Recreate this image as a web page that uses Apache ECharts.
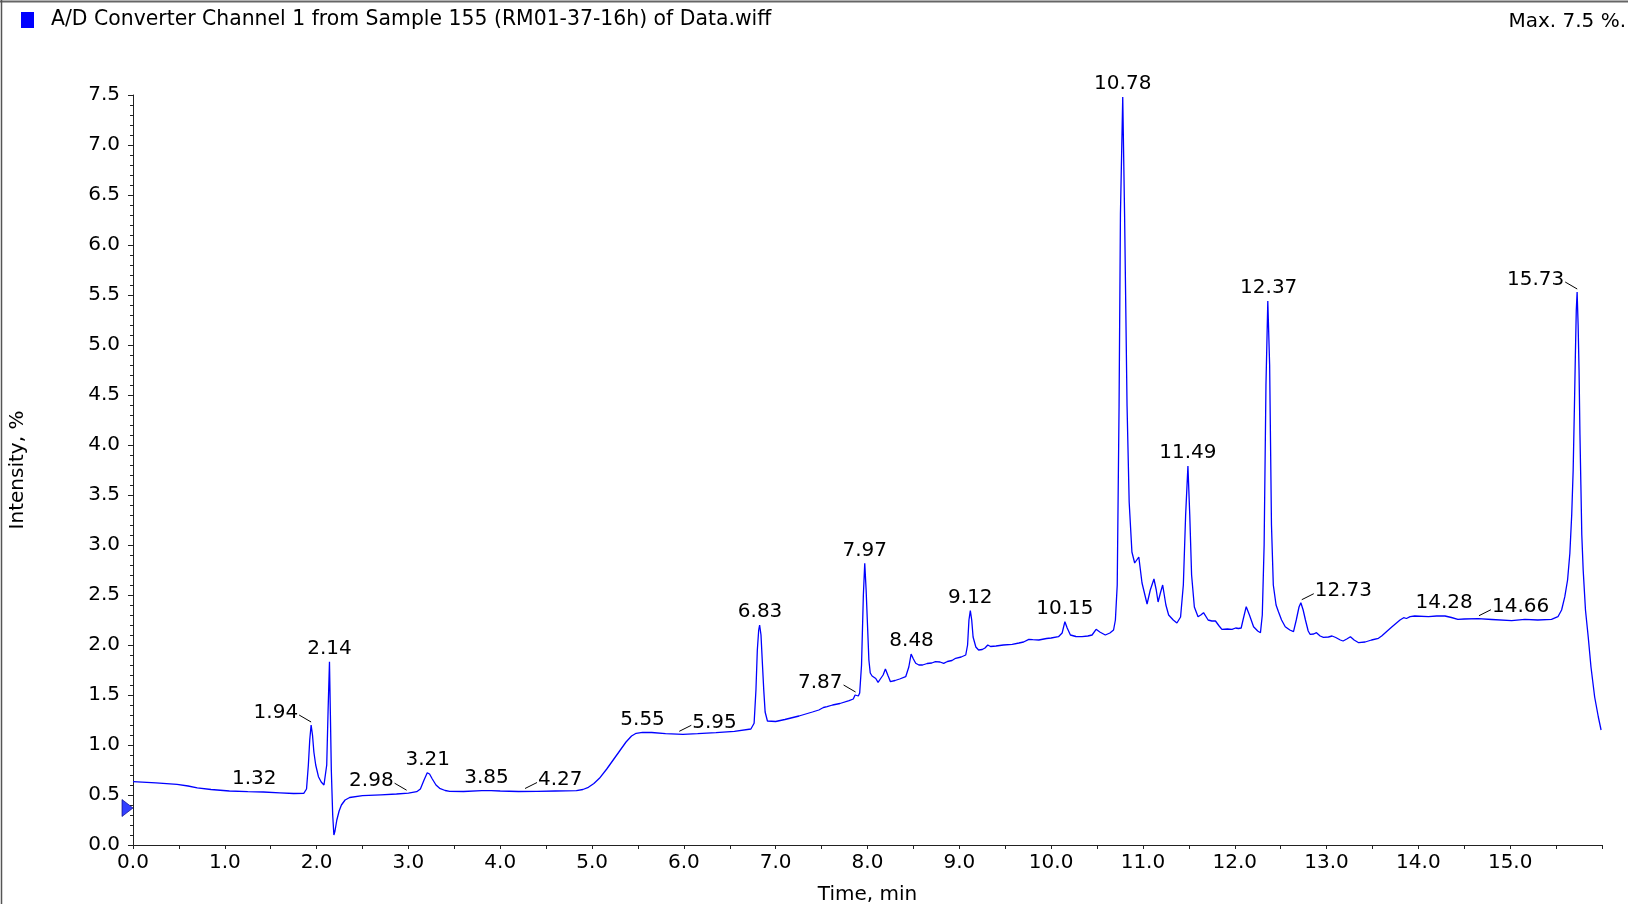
<!DOCTYPE html>
<html>
<head>
<meta charset="utf-8">
<script src="https://cdn.jsdelivr.net/npm/echarts@6/dist/echarts.min.js"></script>
<style>
  html, body { margin: 0; padding: 0; background: #fff; }
  #chart { width: 1628px; height: 904px; }
</style>
</head>
<body>
<div id="chart"></div>
<script>
// ---------------- DATA ----------------
const seriesName = 'A/D Converter Channel 1 from Sample 155 (RM01-37-16h) of Data.wiff';

const timeMin = [
  0.00, 0.25, 0.48, 0.60, 0.70, 0.85, 1.05, 1.25, 1.42, 1.60, 1.75, 1.86,
  1.89, 1.91, 1.925, 1.94, 1.955, 1.97, 1.99, 2.02, 2.05, 2.08, 2.095,
  2.11, 2.125, 2.14, 2.15, 2.16, 2.175, 2.188, 2.20, 2.22, 2.245, 2.27, 2.31, 2.36,
  2.50, 2.70, 2.87, 3.00, 3.09, 3.13, 3.17, 3.205, 3.23, 3.26, 3.30, 3.34, 3.40, 3.45,
  3.60, 3.80, 3.90, 4.00, 4.20, 4.40, 4.60, 4.83, 4.90, 4.96, 5.02, 5.08, 5.16, 5.23,
  5.30, 5.37, 5.43, 5.48, 5.55, 5.65, 5.80, 5.99, 6.15, 6.35, 6.55, 6.73,
  6.765, 6.785, 6.80, 6.815, 6.825, 6.84, 6.855, 6.87, 6.885, 6.91, 6.93,
  7.00, 7.10, 7.254, 7.40, 7.47, 7.52, 7.56, 7.62, 7.70, 7.80, 7.845, 7.865, 7.88, 7.90,
  7.915, 7.935, 7.955, 7.97, 7.985, 8.00, 8.015, 8.03, 8.05, 8.07, 8.09, 8.115, 8.14,
  8.17, 8.195, 8.205, 8.225, 8.25, 8.30, 8.35, 8.416, 8.45, 8.475, 8.50, 8.525, 8.56,
  8.60, 8.65, 8.70, 8.74, 8.79, 8.83, 8.87, 8.92, 8.96, 9.02, 9.07, 9.09, 9.105, 9.12,
  9.135, 9.15, 9.18, 9.21, 9.25, 9.28, 9.31, 9.34, 9.40, 9.48, 9.576, 9.65, 9.70, 9.757,
  9.80, 9.866, 9.95, 10.00, 10.08, 10.12, 10.15, 10.175, 10.21, 10.27, 10.337, 10.40,
  10.446, 10.49, 10.53, 10.59, 10.64, 10.68, 10.70, 10.72, 10.74, 10.755, 10.78, 10.80,
  10.827, 10.85, 10.88, 10.91, 10.93, 10.955, 10.99, 11.045, 11.08, 11.12, 11.145,
  11.165, 11.19, 11.215, 11.25, 11.28, 11.33, 11.37, 11.41, 11.44, 11.465, 11.49,
  11.51, 11.53, 11.56, 11.60, 11.63, 11.66, 11.71, 11.75, 11.79, 11.83, 11.86, 11.92,
  11.97, 12.01, 12.04, 12.07, 12.09, 12.125, 12.16, 12.205, 12.25, 12.28, 12.30, 12.32,
  12.34, 12.36, 12.38, 12.40, 12.42, 12.45, 12.476, 12.51, 12.55, 12.60, 12.64, 12.67,
  12.70, 12.72, 12.745, 12.77, 12.80, 12.82, 12.86, 12.89, 12.93, 12.966, 13.02, 13.06,
  13.10, 13.15, 13.18, 13.22, 13.26, 13.30, 13.35, 13.42, 13.49, 13.565, 13.60, 13.71,
  13.80, 13.84, 13.87, 13.91, 13.96, 14.11, 14.20, 14.29, 14.36, 14.43, 14.50, 14.65,
  14.80, 15.016, 15.16, 15.30, 15.45, 15.52, 15.56, 15.595, 15.625, 15.65, 15.67,
  15.686, 15.70, 15.71, 15.72, 15.729, 15.74, 15.75, 15.76, 15.77, 15.78, 15.795,
  15.82, 15.85, 15.88, 15.92, 15.96, 15.99
];

const intensityPct = [
  0.633, 0.622, 0.607, 0.590, 0.572, 0.555, 0.540, 0.533, 0.530, 0.522, 0.515, 0.517,
  0.56, 0.80, 1.05, 1.20, 1.10, 0.93, 0.80, 0.683, 0.630, 0.600, 0.598,
  0.80, 1.35, 1.833, 1.30, 0.75, 0.30, 0.10, 0.14, 0.25, 0.34, 0.40, 0.45, 0.475,
  0.493, 0.502, 0.510, 0.518, 0.533, 0.56, 0.65, 0.723, 0.71, 0.66, 0.60, 0.567, 0.545, 0.537,
  0.535, 0.543, 0.543, 0.540, 0.535, 0.537, 0.540, 0.543, 0.555, 0.577, 0.615, 0.667, 0.76, 0.85,
  0.94, 1.03, 1.09, 1.117, 1.127, 1.125, 1.113, 1.107, 1.113, 1.123, 1.137, 1.16,
  1.217, 1.55, 1.95, 2.15, 2.20, 2.10, 1.82, 1.55, 1.33, 1.24, 1.223,
  1.235, 1.255, 1.29, 1.33, 1.35, 1.375, 1.383, 1.40, 1.415, 1.443, 1.46, 1.50, 1.517, 1.49,
  1.52, 1.80, 2.50, 2.817, 2.55, 2.20, 1.85, 1.72, 1.69, 1.67, 1.665, 1.627, 1.66,
  1.70, 1.76, 1.757, 1.69, 1.633, 1.645, 1.66, 1.683, 1.78, 1.91, 1.86, 1.817, 1.80,
  1.80, 1.815, 1.82, 1.833, 1.83, 1.817, 1.835, 1.845, 1.867, 1.88, 1.90, 2.00, 2.25, 2.343,
  2.25, 2.08, 1.98, 1.95, 1.955, 1.97, 2.00, 1.985, 1.99, 2.00, 2.007, 2.02, 2.03, 2.057,
  2.053, 2.05, 2.065, 2.07, 2.083, 2.12, 2.233, 2.17, 2.10, 2.085, 2.083, 2.09,
  2.10, 2.157, 2.13, 2.10, 2.12, 2.15, 2.25, 2.60, 4.39, 6.31, 7.48, 6.31,
  4.39, 3.43, 2.93, 2.82, 2.80, 2.88, 2.62, 2.41, 2.55, 2.66, 2.55,
  2.43, 2.52, 2.60, 2.40, 2.30, 2.25, 2.22, 2.28, 2.60, 3.30, 3.79,
  3.30, 2.70, 2.38, 2.283, 2.30, 2.323, 2.25, 2.24, 2.24, 2.19, 2.157, 2.16,
  2.157, 2.17, 2.165, 2.17, 2.25, 2.383, 2.30, 2.183, 2.14, 2.123, 2.30, 3.00,
  4.60, 5.44, 4.80, 3.20, 2.60, 2.40, 2.333, 2.25, 2.183, 2.15, 2.133, 2.25,
  2.38, 2.423, 2.35, 2.25, 2.14, 2.107, 2.11, 2.123, 2.09, 2.077, 2.08, 2.09,
  2.075, 2.05, 2.04, 2.06, 2.083, 2.05, 2.023, 2.03, 2.05, 2.067, 2.09, 2.18,
  2.25, 2.273, 2.265, 2.283, 2.29, 2.283, 2.29, 2.29, 2.275, 2.257, 2.26, 2.263,
  2.255, 2.243, 2.257, 2.25, 2.257, 2.283, 2.35, 2.483, 2.65, 2.917, 3.30,
  3.75, 4.40, 4.90, 5.35, 5.53, 5.20, 4.75, 4.10, 3.60, 3.10, 2.75,
  2.35, 2.08, 1.78, 1.48, 1.28, 1.15
];

// annotated retention times (peak labels)
const peakLabels = ['1.32', '1.94', '2.14', '2.98', '3.21', '3.85', '4.27', '5.55', '5.95',
  '6.83', '7.87', '7.97', '8.48', '9.12', '10.15', '10.78', '11.49', '12.37', '12.73',
  '14.28', '14.66', '15.73'];

// threshold marker on the intensity axis
const thresholdMarker = [0.37];

// axis ranges / tick steps
const xRange = [0, 16];
const xTickStep = 1;
const yRange = [0, 7.5];
const yTickStep = 0.5;

// ---------------- STYLE ----------------
const FONT = '"DejaVu Sans", sans-serif';
const FS = 20;
const lineColor = '#0000ff';
// labels that use a leader line (left / right of the point)
const leaderSide = {
  '1.94': 'left', '2.98': 'left', '7.87': 'left', '15.73': 'left',
  '4.27': 'right', '5.95': 'right', '12.73': 'right', '14.66': 'right'
};

// ---------------- BUILD ----------------
const lineData = timeMin.map((t, i) => [t, intensityPct[i]]);

function nearestValue(t) {
  let best = 0, bd = Infinity;
  for (let i = 0; i < timeMin.length; i++) {
    const d = Math.abs(timeMin[i] - t);
    if (d < bd) { bd = d; best = i; }
  }
  return intensityPct[best];
}
const labelData = peakLabels.map(l => [parseFloat(l), nearestValue(parseFloat(l))]);
const maxVal = Math.max.apply(null, intensityPct);

const chart = echarts.init(document.getElementById('chart'), null, { renderer: 'canvas' });

const option = {
  animation: false,
  backgroundColor: '#ffffff',
  legend: {
    data: [{ name: seriesName, icon: 'rect' }],
    left: 21, top: 10, padding: 0,
    itemWidth: 13, itemHeight: 16,
    selectedMode: false,
    textStyle: { fontFamily: FONT, fontSize: 20.4, color: '#000', padding: [4, 0, 0, 12] }
  },
  graphic: [
    { type: 'line', shape: { x1: 0, y1: 1.5, x2: 1628, y2: 1.5 }, style: { stroke: '#666', lineWidth: 2 } },
    { type: 'line', shape: { x1: 1.5, y1: 0, x2: 1.5, y2: 904 }, style: { stroke: '#555', lineWidth: 1.5 } },
    { type: 'text', right: 2, top: 12,
      style: { text: 'Max. ' + maxVal.toFixed(1) + ' %.', font: FS + 'px ' + FONT, fill: '#000' } }
  ],
  grid: { left: 133, right: 26, top: 95, bottom: 59, containLabel: false, outerBoundsMode: 'none' },
  xAxis: {
    type: 'value', min: xRange[0], max: xRange[1], interval: xTickStep,
    name: 'Time, min', nameLocation: 'middle', nameGap: 40,
    nameTextStyle: { fontFamily: FONT, fontSize: FS, color: '#000' },
    axisLine: { show: true, onZero: false, lineStyle: { color: '#222', width: 1 } },
    axisTick: { show: true, length: 4, lineStyle: { color: '#222' } },
    minorTick: { show: true, splitNumber: 2, length: 4, lineStyle: { color: '#222' } },
    splitLine: { show: false },
    axisLabel: {
      margin: 8, fontFamily: FONT, fontSize: FS, color: '#000',
      formatter: v => (v >= xRange[1] ? '' : v.toFixed(1))
    }
  },
  yAxis: {
    type: 'value', min: yRange[0], max: yRange[1], interval: yTickStep,
    name: 'Intensity, %', nameLocation: 'middle', nameGap: 105, nameRotate: 90,
    nameTextStyle: { fontFamily: FONT, fontSize: FS, color: '#000' },
    axisLine: { show: true, lineStyle: { color: '#222', width: 1 } },
    axisTick: { show: true, length: 5, lineStyle: { color: '#222' } },
    minorTick: { show: true, splitNumber: 5, length: 3, lineStyle: { color: '#222' } },
    splitLine: { show: false },
    axisLabel: { margin: 13, fontFamily: FONT, fontSize: FS, color: '#000', formatter: v => v.toFixed(1) }
  },
  series: [
    {
      name: seriesName, type: 'line', data: lineData,
      showSymbol: false, symbol: 'none', smooth: false,
      lineStyle: { color: lineColor, width: 1.3 },
      itemStyle: { color: lineColor },
      z: 3
    },
    {
      name: 'threshold', type: 'scatter', data: thresholdMarker.map(v => [xRange[0], v]),
      symbol: 'triangle', symbolSize: [17, 11], symbolRotate: -90, symbolOffset: [-5.5, 0],
      clip: false,
      itemStyle: { color: '#0010ff', borderColor: '#000080', borderWidth: 0.8 },
      z: 4, silent: true
    },
    {
      name: 'peaks', type: 'custom', data: labelData,
      encode: { x: 0, y: 1 },
      clip: false, silent: true, z: 5,
      renderItem: function (params, api) {
        const p = api.coord([api.value(0), api.value(1)]);
        const txt = peakLabels[params.dataIndex];
        const side = leaderSide[txt];
        const font = FS + 'px ' + FONT;
        if (!side) {
          return { type: 'text', x: p[0], y: p[1] - 13,
            style: { text: txt, font: font, fill: '#000', align: 'center', verticalAlign: 'middle' } };
        }
        if (side === 'left') {
          return { type: 'group', children: [
            { type: 'line', shape: { x1: p[0] - 12, y1: p[1] - 10, x2: p[0], y2: p[1] - 3 },
              style: { stroke: '#000', lineWidth: 1 } },
            { type: 'text', x: p[0] - 13, y: p[1] - 12,
              style: { text: txt, font: font, fill: '#000', align: 'right', verticalAlign: 'middle' } }
          ] };
        }
        return { type: 'group', children: [
          { type: 'line', shape: { x1: p[0], y1: p[1] - 3, x2: p[0] + 12, y2: p[1] - 9 },
            style: { stroke: '#000', lineWidth: 1 } },
          { type: 'text', x: p[0] + 13, y: p[1] - 12,
            style: { text: txt, font: font, fill: '#000', align: 'left', verticalAlign: 'middle' } }
        ] };
      }
    }
  ]
};
chart.setOption(option);
</script>
</body>
</html>
